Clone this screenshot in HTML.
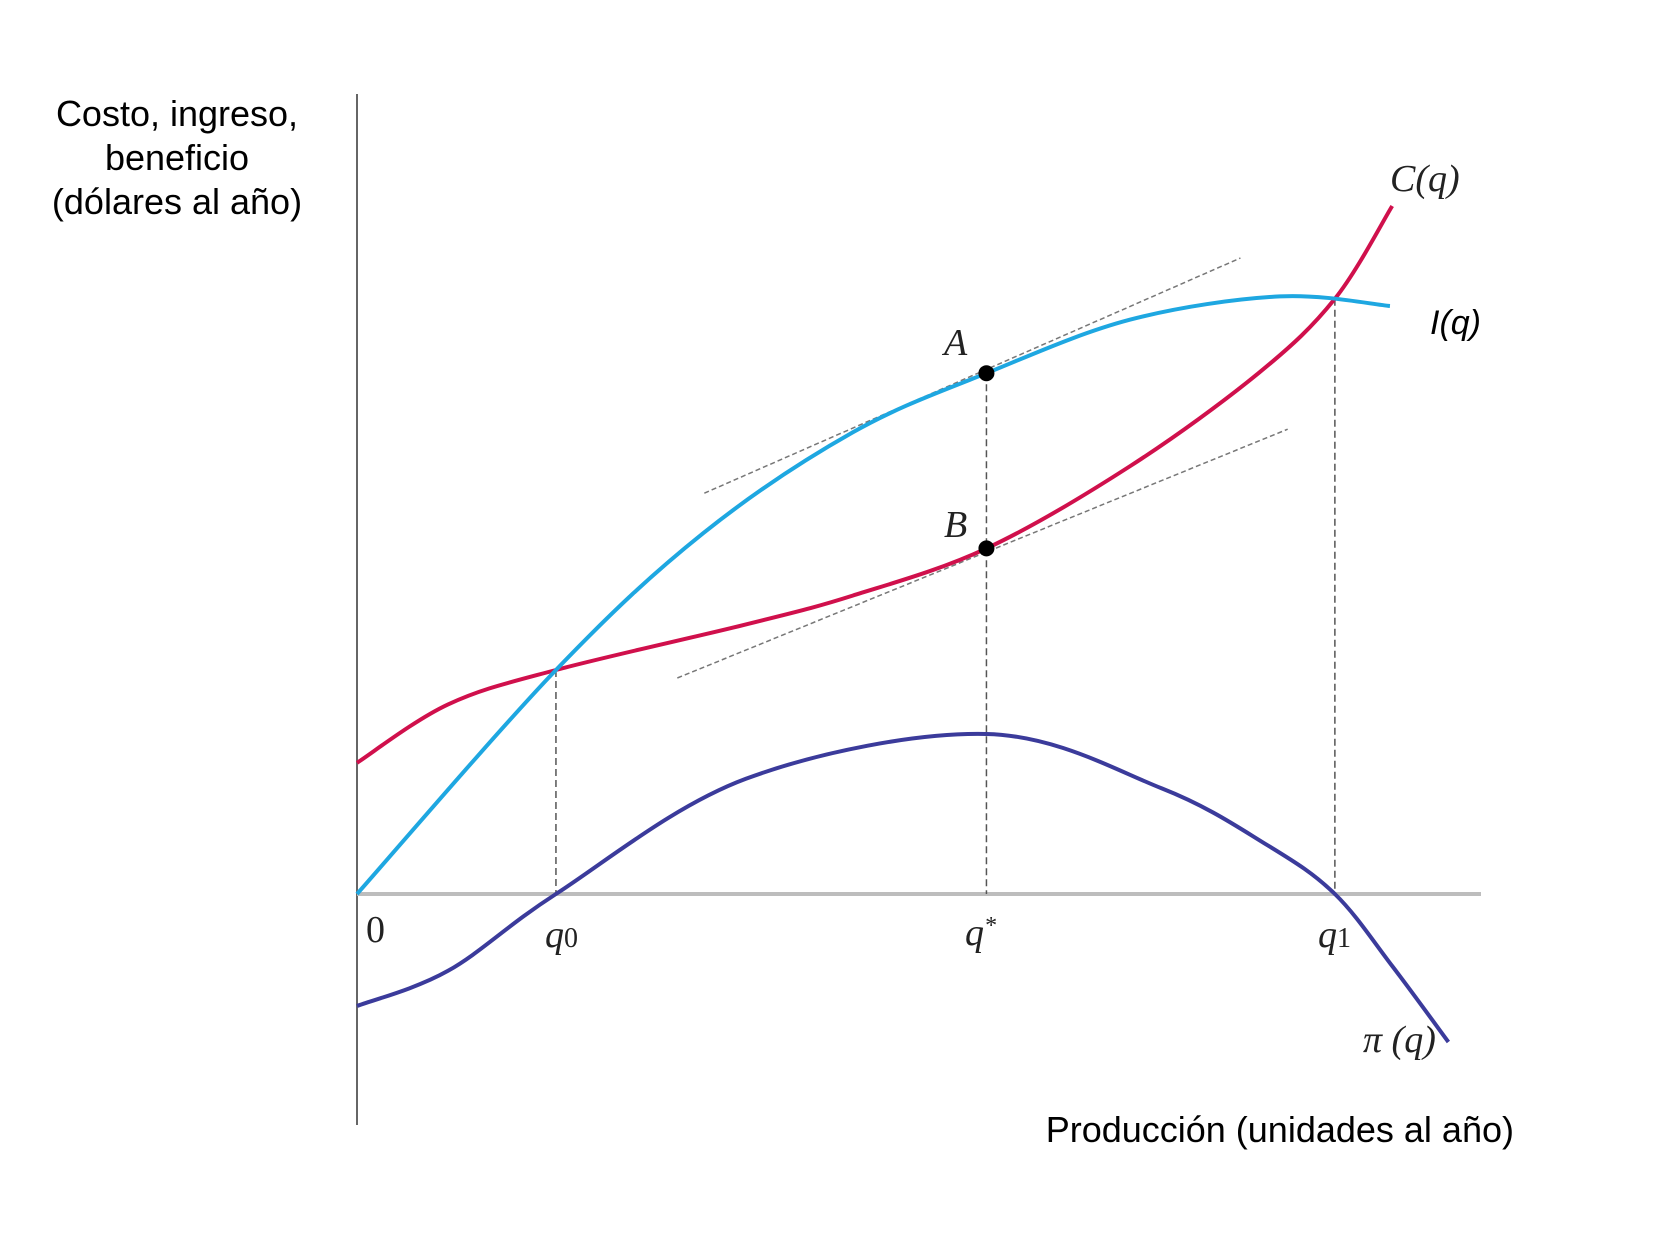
<!DOCTYPE html>
<html><head><meta charset="utf-8"><style>
html,body{margin:0;padding:0;background:#fff;}
svg{display:block;}
.sans{font-family:"Liberation Sans",sans-serif;}
.serif{font-family:"Liberation Serif",serif;font-style:italic;}
</style></head><body>
<svg id="chart" width="1664" height="1241" viewBox="0 0 1664 1241">
<g class="sans" font-size="36" text-anchor="middle" fill="#000">
<text x="177" y="126">Costo, ingreso,</text>
<text x="177" y="170">beneficio</text>
<text x="177" y="214">(dólares al año)</text>
</g>
<text class="sans" font-size="36" x="1514" y="1142" text-anchor="end">Producción (unidades al año)</text>
<line x1="357" y1="94" x2="357" y2="1125" stroke="#666" stroke-width="2"/>
<line x1="357" y1="894" x2="1481" y2="894" stroke="#bdbdbd" stroke-width="4"/>
<g id="marks"></g>
<g class="serif" font-size="38" fill="#222">
<text x="944" y="355">A</text>
<text x="944" y="537">B</text>
<text x="1390" y="191">C(q)</text>
<text x="1363" y="1052">π (q)</text>
<text x="366" y="942" font-style="normal">0</text>
<text x="545" y="947">q<tspan font-size="28" font-style="normal">0</tspan></text>
<text x="965" y="945">q<tspan font-size="24" dy="-12">*</tspan></text>
<text x="1318" y="947">q<tspan font-size="28" font-style="normal">1</tspan></text>
</g>
<text class="sans" font-style="italic" font-size="34" x="1430" y="334">I(q)</text>
</svg>
<script>
const revenueQ = [0, 17.7, 30.8, 44.1, 56, 68.8, 82.1, 91.9];
const revenue = [0, 28, 45.1, 57.7, 65.1, 71.8, 74.7, 73.5];
const costQ = [0, 8.1, 17.7, 34.6, 44.1, 56, 68.8, 80.2, 87, 92.1];
const cost = [16.4, 23.7, 28, 33.7, 37.3, 43.2, 53.5, 65.1, 74.4, 86];
const profitQ = [0, 8.1, 17.7, 34.6, 56, 71.6, 81, 87, 92.1, 97.1];
const profit = [-14, -9.6, 0, 14.4, 20, 13.2, 6.1, 0, -9, -18.5];
const keyQ = [17.7, 56, 87];
const dropTops = [28, 65.1, 74.4];
const pointA = [56, 65.1];
const pointB = [56, 43.2];
const tangentA = [[30.9, 50.1], [78.6, 79.5]];
const tangentB = [[28.5, 27], [82.8, 58.1]];

function X(q){ return 357 + q * 11.24; }
function Y(v){ return 894 - v * 8; }
const NS = 'http://www.w3.org/2000/svg';
const g = document.getElementById('marks');
function mk(tag, attrs){ const e = document.createElementNS(NS, tag); for (const k in attrs) e.setAttribute(k, attrs[k]); g.appendChild(e); return e; }
function spline(xs, ys){
  const p = xs.map((x,i)=>[X(x), Y(ys[i])]);
  let d = 'M' + p[0][0] + ',' + p[0][1];
  for (let i=0;i<p.length-1;i++){
    const p0=p[Math.max(0,i-1)], p1=p[i], p2=p[i+1], p3=p[Math.min(p.length-1,i+2)];
    const c1=[p1[0]+(p2[0]-p0[0])/6, p1[1]+(p2[1]-p0[1])/6];
    const c2=[p2[0]-(p3[0]-p1[0])/6, p2[1]-(p3[1]-p1[1])/6];
    d += ' C'+c1[0]+','+c1[1]+' '+c2[0]+','+c2[1]+' '+p2[0]+','+p2[1];
  }
  return d;
}
keyQ.forEach((q,i)=>{
  const l = mk('line', {x1:X(q), y1:Y(dropTops[i]), x2:X(q), y2:Y(0), stroke:'#555', 'stroke-width':1.5, 'stroke-dasharray':'7,4'});
  
  
});
[tangentA, tangentB].forEach((t,i)=>{
  const l = mk('line', {x1:X(t[0][0]), y1:Y(t[0][1]), x2:X(t[1][0]), y2:Y(t[1][1]), stroke:'#777', 'stroke-width':1.5, 'stroke-dasharray':'5,3'});
  
  
});
const pc = mk('path', {d:spline(profitQ, profit), fill:'none', stroke:'#3b3b9b', 'stroke-width':4});


const cc = mk('path', {d:spline(costQ, cost), fill:'none', stroke:'#d0104c', 'stroke-width':4});


const rc = mk('path', {d:spline(revenueQ, revenue), fill:'none', stroke:'#1ea7e1', 'stroke-width':4});


[pointA, pointB].forEach((p,i)=>{
  const c = mk('circle', {cx:X(p[0]), cy:Y(p[1]), r:8, fill:'#000'});
  
  
});
</script>
</body></html>
